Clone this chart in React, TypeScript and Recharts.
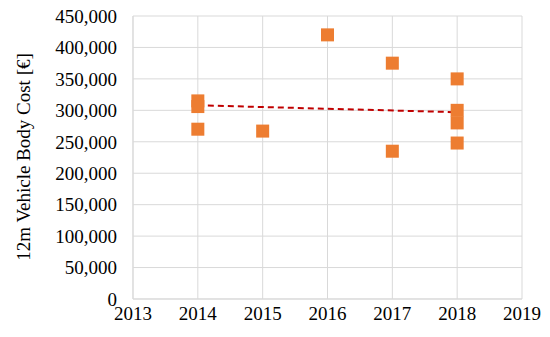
import {
  ComposedChart,
  Scatter,
  Line,
  XAxis,
  YAxis,
  CartesianGrid,
} from 'recharts';

// Each observed vehicle: delivery year and body cost in euros
const years = [2014, 2014, 2014, 2015, 2016, 2017, 2017, 2018, 2018, 2018, 2018];
const costs = [315000, 306000, 270000, 267000, 420000, 375000, 235000, 350000, 300000, 280000, 248000];

// Linear trend as drawn in the figure (start / end)
const trendYears = [2014, 2018];
const trendCosts = [308000, 297000];

const xTicks = [2013, 2014, 2015, 2016, 2017, 2018, 2019];
const yTicks = [0, 50000, 100000, 150000, 200000, 250000, 300000, 350000, 400000, 450000];

const points = years.map((year, i) => ({ year, cost: costs[i] }));
const trend = trendYears.map((year, i) => ({ year, cost: trendCosts[i] }));

const FONT = '"Liberation Serif", "Times New Roman", serif';
const ORANGE = '#ED7D31';
const GRID = '#d9d9d9';

const SquareDot = (props: { cx?: number; cy?: number }) => {
  const { cx = 0, cy = 0 } = props;
  const s = 13;
  return <rect x={cx - s / 2} y={cy - s / 2} width={s} height={s} fill={ORANGE} />;
};

const formatCost = (v: number) => v.toLocaleString('en-US');

const AxisTitle = () => (
  <text
    x={23}
    y={157}
    transform="rotate(-90 23 157)"
    textAnchor="middle"
    dominantBaseline="central"
    fontFamily={FONT}
    fontSize={19}
    fill="#000"
  >
    12m Vehicle Body Cost [€]
  </text>
);

const App = () => {
  return (
    <div style={{ position: 'absolute', left: 0, top: 0, background: '#fff' }}>
      <ComposedChart
        width={550}
        height={337}
        margin={{ top: 16, right: 28, bottom: 8, left: 0 }}
      >
        <CartesianGrid stroke={GRID} />
        <XAxis
          dataKey="year"
          type="number"
          domain={[2013, 2019]}
          ticks={xTicks}
          height={30}
          tickLine={false}
          axisLine={{ stroke: GRID }}
          tick={{ fontFamily: FONT, fontSize: 19, fill: '#000' }}
          interval={0}
        />
        <YAxis
          dataKey="cost"
          type="number"
          domain={[0, 450000]}
          ticks={yTicks}
          width={133}
          tickLine={false}
          axisLine={{ stroke: GRID }}
          tickMargin={10}
          tickFormatter={formatCost}
          tick={{ fontFamily: FONT, fontSize: 19, fill: '#000' }}
          interval={0}
          label={{ content: <AxisTitle /> }}
        />
        <Scatter
          data={points}
          dataKey="cost"
          shape={<SquareDot />}
          isAnimationActive={false}
        />
        <Line
          data={trend}
          dataKey="cost"
          type="linear"
          stroke="#C00000"
          strokeWidth={2}
          strokeDasharray="6 4"
          dot={false}
          activeDot={false}
          isAnimationActive={false}
        />
      </ComposedChart>
    </div>
  );
};

export default App;
